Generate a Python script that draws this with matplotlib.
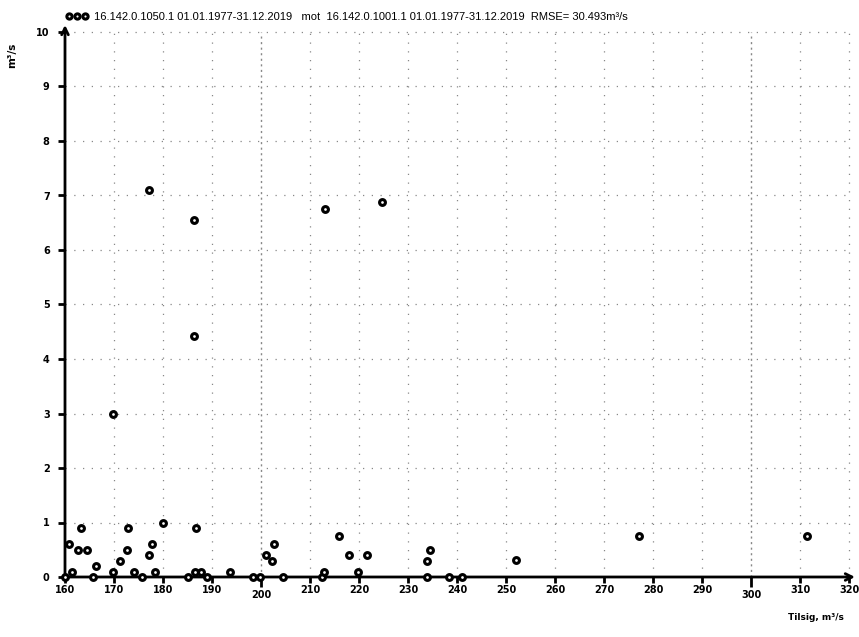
import numpy as np
import matplotlib
matplotlib.use("Agg")
import matplotlib.pyplot as plt

# scatter of inflow (x) against discharge (y)
tilsig = [160.1, 160.9, 161.4, 162.7, 163.3, 164.4, 165.8, 166.4, 169.8, 169.8,
          171.2, 172.6, 172.8, 174.1, 175.7, 177.1, 177.2, 177.8, 178.4, 180.0,
          185.2, 186.3, 186.3, 186.6, 186.7, 187.8, 188.9, 193.7, 198.3, 199.8,
          201.0, 202.2, 202.6, 204.4, 212.4, 212.8, 213.1, 215.9, 218.0, 219.8,
          221.7, 224.6, 233.8, 233.9, 234.5, 238.4, 241.1, 252.0, 277.1, 311.4]
vannf = [0.0, 0.6, 0.1, 0.5, 0.9, 0.5, 0.0, 0.2, 3.0, 0.1,
         0.3, 0.5, 0.9, 0.1, 0.0, 0.4, 7.1, 0.6, 0.1, 1.0,
         0.0, 6.55, 4.43, 0.1, 0.9, 0.1, 0.0, 0.1, 0.0, 0.0,
         0.4, 0.3, 0.6, 0.0, 0.0, 0.1, 6.75, 0.75, 0.4, 0.1,
         0.4, 6.88, 0.3, 0.0, 0.5, 0.0, 0.0, 0.32, 0.75, 0.75]

x_ticks = [160, 170, 180, 190, 210, 220, 230, 240, 250, 260, 270, 280, 290, 310, 320]
x_ticks_major = [200, 300]
y_ticks = list(range(0, 11))

series_label = ("16.142.0.1050.1 01.01.1977-31.12.2019   mot  16.142.0.1001.1 "
                "01.01.1977-31.12.2019  RMSE= 30.493m\u00b3/s")

W, H = 859, 637
fig = plt.figure(figsize=(W / 100, H / 100), dpi=100, facecolor='w')
# axes box in pixels: x from 65 to 855, y from 577 (bottom) to 25 (top)
ax = fig.add_axes([65 / W, 1 - 577 / H, (855 - 65) / W, (577 - 25) / H])
ax.set_xlim(160, 160 + (855 - 65) / 4.9)
ax.set_ylim(0, (577 - 25) / 54.5)

for s in ax.spines.values():
  s.set_visible(False)

# dotted grid, stops at x=320 / y=10
ax.vlines(x_ticks[1:], 0, 10, color='#888888', lw=0.9, ls=(0, (1, 6)), zorder=0)
ax.vlines(x_ticks_major, 0, 10, color='#888888', lw=1.0, ls=(0, (1.5, 2.5)), zorder=0)
ax.hlines(y_ticks[1:], 160, 320, color='#888888', lw=0.9, ls=(0, (1, 6)), zorder=0)

# axes with arrow heads
ax.annotate('', xy=(1.0, 0), xytext=(0, 0), xycoords='axes fraction',
            arrowprops=dict(arrowstyle='->', lw=2, color='k', mutation_scale=12,
                            shrinkA=0, shrinkB=0))
ax.annotate('', xy=(0, 1.0), xytext=(0, 0), xycoords='axes fraction',
            arrowprops=dict(arrowstyle='->', lw=2, color='k', mutation_scale=12,
                            shrinkA=0, shrinkB=0))

ax.set_xticks(x_ticks)
ax.set_xticks(x_ticks_major, minor=True)
ax.set_xticklabels([str(v) for v in x_ticks], fontsize=7, fontweight='bold')
ax.set_xticklabels([str(v) for v in x_ticks_major], minor=True, fontsize=7,
                   fontweight='bold')
ax.set_yticks(y_ticks)
ax.set_yticklabels([str(v) for v in y_ticks], fontsize=7, fontweight='bold')
ax.tick_params(axis='x', which='major', length=4, width=2, pad=2)
ax.tick_params(axis='x', which='minor', length=7, width=2, pad=2)
ax.tick_params(axis='y', length=5, width=2, pad=6)

pts, = ax.plot(tilsig, vannf, 'o', ms=4.2, mfc='white', mec='k', mew=2.2,
               clip_on=False, zorder=5, label=series_label)

leg = ax.legend(handles=[pts], numpoints=3, loc='upper left',
                bbox_to_anchor=(66 / W, 1 - 12 / H), bbox_transform=fig.transFigure,
                frameon=False, handlelength=2.0, handletextpad=0.5,
                borderpad=0, borderaxespad=0, markerscale=0.9,
                prop={'family': 'Liberation Sans', 'size': 8})

fig.text(12 / W, 1 - 55 / H, 'm\u00b3/s', rotation=90, ha='center', va='center',
         fontsize=7.5, fontweight='bold')
fig.text(816 / W, 1 - 618 / H, 'Tilsig, m\u00b3/s', ha='center', va='center',
         fontsize=6.5, fontweight='bold')

fig.savefig('out.png', dpi=100)
plt.close()
